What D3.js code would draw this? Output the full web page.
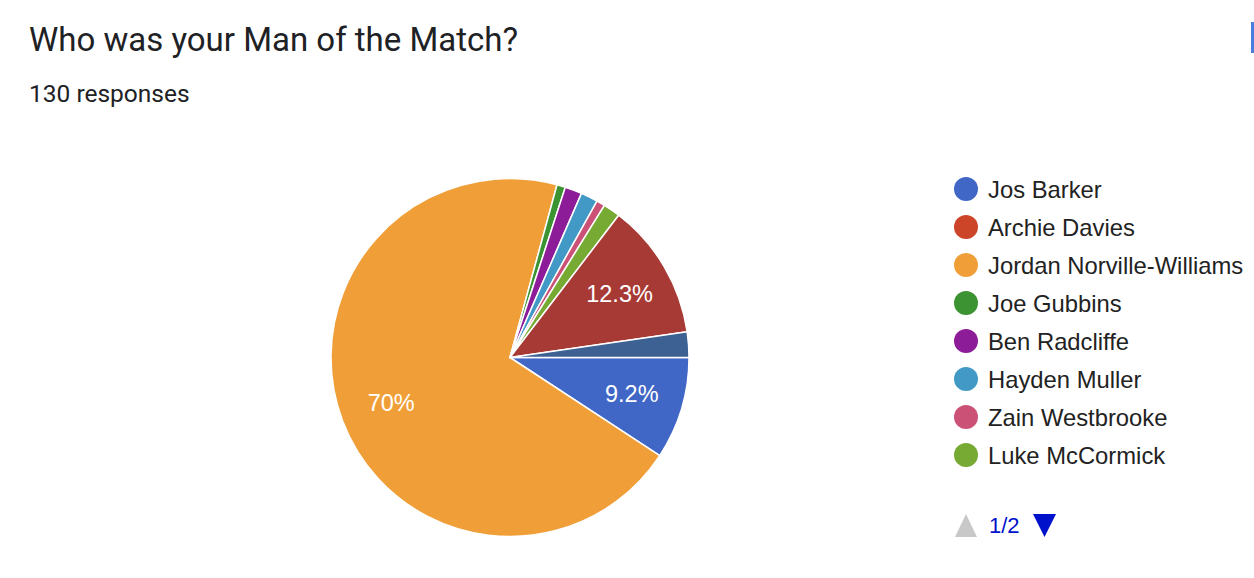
<!DOCTYPE html>
<html>
<head>
<meta charset="utf-8">
<script src="https://cdn.jsdelivr.net/npm/d3@7"></script>
<style>
  html, body { margin: 0; padding: 0; background: #fff; }
  svg { display: block; }
</style>
</head>
<body>
<svg id="chart" width="1254" height="578"></svg>
<script>
// ---- data ----
const title = "Who was your Man of the Match?";
const subtitle = "130 responses";
const names = ["Jos Barker", "Archie Davies", "Jordan Norville-Williams", "Joe Gubbins",
               "Ben Radcliffe", "Hayden Muller", "Zain Westbrooke", "Luke McCormick",
               "Page 2 option A", "Page 2 option B"];
const counts = [12, 0, 91, 1, 2, 2, 1, 2, 16, 3];
const colors = ["#4066c6", "#cd4529", "#f09f38", "#3c9331", "#8d1c98",
                "#4399c6", "#cc5177", "#76aa33", "#a83a36", "#3e6193"];
const legendCount = 8;
const pageLabel = "1/2";

const svg = d3.select("#chart");
const total = d3.sum(counts);

svg.append("text").attr("x", 29).attr("y", 51)
  .attr("font-family", "Roboto, sans-serif").attr("font-size", 33)
  .attr("fill", "#202124").text(title);
svg.append("text").attr("x", 29).attr("y", 102)
  .attr("font-family", "Roboto, sans-serif").attr("font-size", 24.5)
  .attr("fill", "#202124").text(subtitle);

// top-right blue bar
svg.append("rect").attr("x", 1251).attr("y", 22).attr("width", 3).attr("height", 31).attr("fill", "#4a7de0");

const cx = 510, cy = 357.5, r = 179;
const data = names.map((n, i) => ({ name: n, value: counts[i], color: colors[i] }));
const pie = d3.pie().value(d => d.value).sort(null)
  .startAngle(Math.PI / 2).endAngle(Math.PI / 2 + 2 * Math.PI);
const arcs = pie(data);
const arc = d3.arc().innerRadius(0).outerRadius(r);
const labelArc = d3.arc().innerRadius(r * 0.71).outerRadius(r * 0.71);

const g = svg.append("g").attr("transform", `translate(${cx},${cy})`);
g.selectAll("path").data(arcs.filter(a => a.value > 0)).join("path")
  .attr("d", arc).attr("fill", d => d.data.color)
  .attr("stroke", "#fff").attr("stroke-width", 1.5).attr("stroke-linejoin", "round");

const fmt = v => {
  const p = v / total * 100;
  return (Math.abs(p - Math.round(p)) < 0.05 ? d3.format(".0f")(p) : d3.format(".1f")(p)) + "%";
};
g.selectAll("text.lbl").data(arcs.filter(a => a.value / total > 0.05)).join("text")
  .attr("class", "lbl")
  .attr("transform", d => `translate(${labelArc.centroid(d)})`)
  .attr("text-anchor", "middle").attr("dy", "0.36em")
  .attr("font-family", "Arial, 'Liberation Sans', sans-serif").attr("font-size", 23.5)
  .attr("fill", "#fff").text(d => fmt(d.value));

// legend
const lg = svg.append("g").attr("transform", "translate(966,189)");
const rows = lg.selectAll("g").data(data.slice(0, legendCount)).join("g")
  .attr("transform", (d, i) => `translate(0,${i * 38})`);
rows.append("circle").attr("r", 12).attr("fill", d => d.color);
rows.append("text").attr("x", 22).attr("dy", "0.36em")
  .attr("font-family", "Arial, 'Liberation Sans', sans-serif").attr("font-size", 23.8)
  .attr("fill", "#222").text(d => d.name);

// pagination
const pg = svg.append("g").attr("transform", "translate(966,525)");
pg.append("path").attr("d", "M-11,12 L11,12 L0,-11 Z").attr("fill", "#c8c8c8");
pg.append("text").attr("x", 23).attr("dy", "0.36em")
  .attr("font-family", "Arial, 'Liberation Sans', sans-serif").attr("font-size", 22)
  .attr("fill", "#0011cc").text(pageLabel);
pg.append("path").attr("d", "M67,-11 L90,-11 L78.5,12 Z").attr("fill", "#0011cc");
</script>
</body>
</html>
